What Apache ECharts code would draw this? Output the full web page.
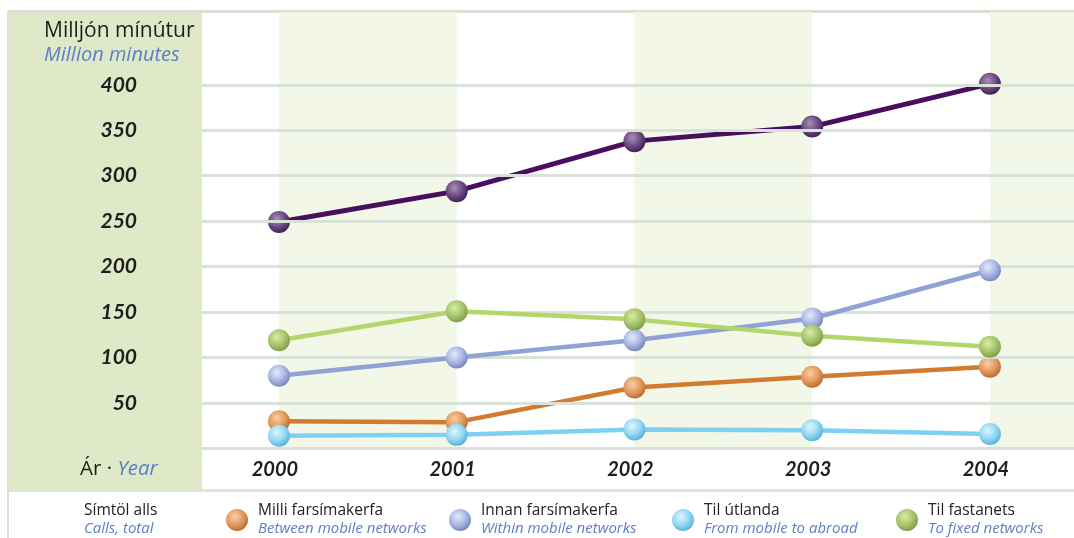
<!DOCTYPE html>
<html>
<head>
<meta charset="utf-8">
<script src="https://cdn.jsdelivr.net/npm/echarts@6/dist/echarts.min.js"></script>
<style>
  html, body { margin: 0; padding: 0; background: #fff; }
  #chart { width: 1074px; height: 538px; }
</style>
</head>
<body>
<div id="chart"></div>
<script>
// gögn / data
var years = [2000, 2001, 2002, 2003, 2004];
var yTicks = [50, 100, 150, 200, 250, 300, 350, 400];
var gridTicks = [0, 50, 100, 150, 200, 250, 300, 350, 400];

var total = [249, 283, 338, 354, 401];      // Símtöl alls
var milli = [30, 29, 67, 79, 90];           // Milli farsímakerfa
var innan = [80, 100, 119, 143, 196];       // Innan farsímakerfa
var utlanda = [14, 15, 21, 20, 16];         // Til útlanda
var fastanets = [119, 151, 142, 124, 112];  // Til fastanets

var names = [
  ['Símtöl alls', 'Calls, total'],
  ['Milli farsímakerfa', 'Between mobile networks'],
  ['Innan farsímakerfa', 'Within mobile networks'],
  ['Til útlanda', 'From mobile to abroad'],
  ['Til fastanets', 'To fixed networks']
];

var chart = echarts.init(document.getElementById('chart'));
var FONT = 'Open Sans';
var NUMFONT = 'Lato';
var BLUE = '#5b7fc6';

function ball(light, base, dark) {
  return {
    type: 'radial', x: 0.4, y: 0.35, r: 0.7,
    colorStops: [
      { offset: 0, color: light },
      { offset: 0.55, color: base },
      { offset: 1, color: dark }
    ]
  };
}

function pairs(vals) {
  return years.map(function (y, i) { return [y, vals[i]]; });
}

function lineSeries(idx, vals, lineColor, fill, width) {
  return {
    name: names[idx][0],
    type: 'line',
    data: pairs(vals),
    z: 3 + idx,
    symbol: 'circle',
    symbolSize: 22,
    lineStyle: { color: lineColor, width: width },
    itemStyle: { color: fill },
    emphasis: { disabled: true },
    animation: false
  };
}

function legendFor(idx, left, icon) {
  return {
    data: [names[idx][0]],
    left: left,
    top: 503,
    padding: 0,
    icon: icon,
    itemWidth: icon === 'none' ? 0 : 22,
    itemHeight: 22,
    selectedMode: false,
    formatter: function (n) {
      return '{a|' + n + '}\n{b|' + names[idx][1] + '}';
    },
    textStyle: {
      rich: {
        a: { fontFamily: FONT, fontSize: 15.5, color: '#222', lineHeight: 18, padding: [0, 0, 0, 5] },
        b: { fontFamily: FONT, fontSize: 15, fontStyle: 'italic', color: BLUE, lineHeight: 18, padding: [0, 0, 0, 5] }
      }
    }
  };
}

var option = {
  backgroundColor: '#fff',
  animation: false,
  grid: { left: 202, right: 0, top: 12, bottom: 89.5 },
  xAxis: {
    type: 'value',
    min: 1999.567,
    max: 2004.473,
    splitLine: { show: false },
    axisLine: { show: false },
    axisTick: { show: false },
    axisLabel: {
      customValues: years,
      margin: 11,
      padding: [0, 8, 0, 0],
      fontFamily: NUMFONT,
      fontSize: 20,
      fontWeight: 'bold',
      fontStyle: 'italic',
      color: '#1e1e1e',
      formatter: function (v) { return String(v); }
    }
  },
  yAxis: {
    type: 'value',
    min: 0,
    max: 480,
    splitLine: { show: false },
    axisLine: { show: false },
    axisTick: { show: false },
    axisLabel: {
      customValues: yTicks,
      margin: 65,
      fontFamily: NUMFONT,
      fontSize: 21,
      fontWeight: 'bold',
      fontStyle: 'italic',
      color: '#1e1e1e'
    }
  },
  legend: [
    legendFor(0, 74, 'none'),
    legendFor(1, 226, 'circle'),
    legendFor(2, 449, 'circle'),
    legendFor(3, 672, 'circle'),
    legendFor(4, 896, 'circle')
  ],
  graphic: [
    { type: 'rect', shape: { x: 8, y: 12, width: 194, height: 478 }, style: { fill: '#dfe8c7' }, z: 0 },
    { type: 'rect', shape: { x: 8, y: 10, width: 1066, height: 3 }, style: { fill: '#d6e0d3' }, z: 1 },
    { type: 'rect', shape: { x: 8, y: 489, width: 1066, height: 3 }, style: { fill: '#dde6d8' }, z: 1 },
    { type: 'rect', shape: { x: 7, y: 10, width: 2, height: 528 }, style: { fill: '#dbe4d2' }, z: 1 },
    { type: 'text', left: 44, top: 21, style: { text: 'Milljón mínútur', font: '21px "Open Sans"', fill: '#1e1e1e' } },
    { type: 'text', left: 44, top: 45, style: { text: 'Million minutes', font: 'italic 20px "Open Sans"', fill: BLUE } },
    { type: 'text', left: 80, top: 459, style: {
        text: '{a|Ár · }{b|Year}',
        rich: {
          a: { fontFamily: FONT, fontSize: 20.5, fill: '#1e1e1e' },
          b: { fontFamily: FONT, fontSize: 20.5, fontStyle: 'italic', fill: BLUE }
        }
      } }
  ],
  series: [
    {
      name: 'bands',
      type: 'line',
      data: [],
      z: 1,
      silent: true,
      markArea: {
        silent: true,
        itemStyle: { color: '#f3f7e8' },
        data: [
          [{ xAxis: years[0] }, { xAxis: years[1] }],
          [{ xAxis: years[2] }, { xAxis: years[3] }],
          [{ xAxis: years[4] }, { xAxis: 'max' }]
        ]
      },
      markLine: {
        silent: true,
        symbol: ['none', 'none'],
        label: { show: false },
        lineStyle: { color: '#d9e2d9', width: 3, type: 'solid' },
        data: gridTicks.map(function (t) { return { yAxis: t }; })
      }
    },
    lineSeries(0, total, '#4a0e5e', ball('#a891b6', '#6a4a80', '#3a1a50'), 5),
    lineSeries(1, milli, '#d27a2f', ball('#f8cfa6', '#e29a5e', '#b5652a'), 4.5),
    lineSeries(2, innan, '#8fa2d8', ball('#e4eaf9', '#a9b6e2', '#7082b8'), 4.5),
    lineSeries(3, utlanda, '#7dd0f1', ball('#e0f6fd', '#92d8f3', '#4eaed6'), 4.5),
    lineSeries(4, fastanets, '#b2d66a', ball('#d9eca6', '#a7c56c', '#7b9944'), 4.5)
  ]
};

chart.setOption(option);
</script>
</body>
</html>
